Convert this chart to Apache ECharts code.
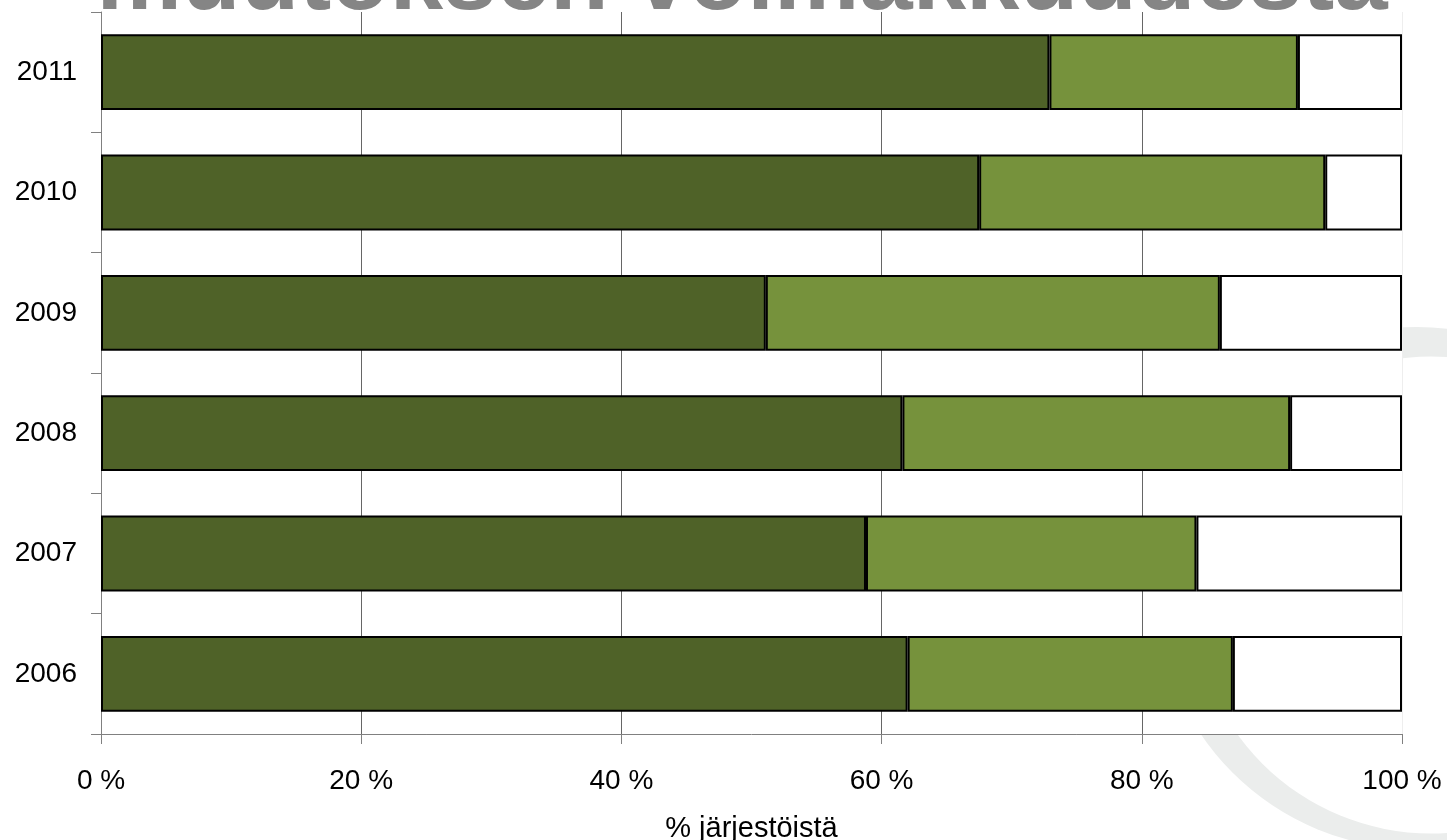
<!DOCTYPE html>
<html>
<head>
<meta charset="utf-8">
<script src="https://cdn.jsdelivr.net/npm/echarts@6/dist/echarts.min.js"></script>
<style>
html,body{margin:0;padding:0;background:#fff;}
#chart{width:1447px;height:840px;}
</style>
</head>
<body>
<div id="chart"></div>
<script>
var categories = ['2006', '2007', '2008', '2009', '2010', '2011'];
var seriesDark = [62.0, 58.8, 61.6, 51.1, 67.5, 72.9];
var seriesLight = [25.0, 25.4, 29.8, 34.9, 26.6, 19.1];
var seriesWhite = [13.0, 15.8, 8.6, 14.0, 5.9, 8.0];
var xTicks = [0, 20, 40, 60, 80, 100];
var titleText = 'muutoksen voimakkuudesta';
var axisName = '% järjestöistä';

var chart = echarts.init(document.getElementById('chart'), null, {renderer: 'canvas'});
var FONT = '"Liberation Sans", Arial, sans-serif';
var border = {borderColor: '#000', borderWidth: 2};

var option = {
  animation: false,
  backgroundColor: '#fff',
  graphic: {
    elements: [
      {
        type: 'circle',
        z: -10,
        silent: true,
        shape: {cx: 1417, cy: 588, r: 261},
        style: {fill: '#ebedec'}
      },
      {
        type: 'circle',
        z: -9,
        silent: true,
        shape: {cx: 1431, cy: 595, r: 238.5},
        style: {fill: '#ffffff'}
      },
      {
        type: 'text',
        z: 10,
        silent: true,
        style: {
          text: titleText,
          x: 742,
          y: -17,
          align: 'center',
          verticalAlign: 'middle',
          fill: '#858585',
          font: 'bold 96px "Liberation Sans", Arial, sans-serif'
        }
      }
    ]
  },
  grid: {
    left: 101, right: 45, top: 12, bottom: 106,
    containLabel: false,
    outerBoundsMode: 'none',
    show: true, backgroundColor: '#fff', borderWidth: 0
  },
  xAxis: {
    type: 'value',
    min: xTicks[0],
    max: xTicks[xTicks.length - 1],
    interval: 20,
    name: axisName,
    nameLocation: 'middle',
    nameGap: 80,
    nameTextStyle: {fontSize: 29, color: '#000', fontFamily: FONT},
    axisLine: {show: true, lineStyle: {color: '#808080', width: 1}},
    axisTick: {show: true, length: 10, lineStyle: {color: '#808080'}},
    axisLabel: {
      margin: 33, fontSize: 28, color: '#000', fontFamily: FONT,
      formatter: function (v) { return v + ' %'; }
    },
    splitLine: {
      show: true,
      lineStyle: {color: ['#808080', '#666', '#666', '#666', '#666', '#eeeeee'], width: 1}
    }
  },
  yAxis: {
    type: 'category',
    data: categories,
    axisLine: {show: true, lineStyle: {color: '#808080', width: 1}},
    axisTick: {show: true, length: 10, alignWithLabel: false, lineStyle: {color: '#808080'}},
    axisLabel: {margin: 24, fontSize: 28, color: '#000', fontFamily: FONT},
    splitLine: {show: false}
  },
  series: [
    {
      type: 'bar', stack: 'total', data: seriesDark,
      barCategoryGap: '37%',
      itemStyle: Object.assign({color: '#4f6228'}, border)
    },
    {
      type: 'bar', stack: 'total', data: seriesLight,
      itemStyle: Object.assign({color: '#76923c'}, border)
    },
    {
      type: 'bar', stack: 'total', data: seriesWhite,
      itemStyle: Object.assign({color: '#ffffff'}, border)
    }
  ]
};
chart.setOption(option);
</script>
</body>
</html>
